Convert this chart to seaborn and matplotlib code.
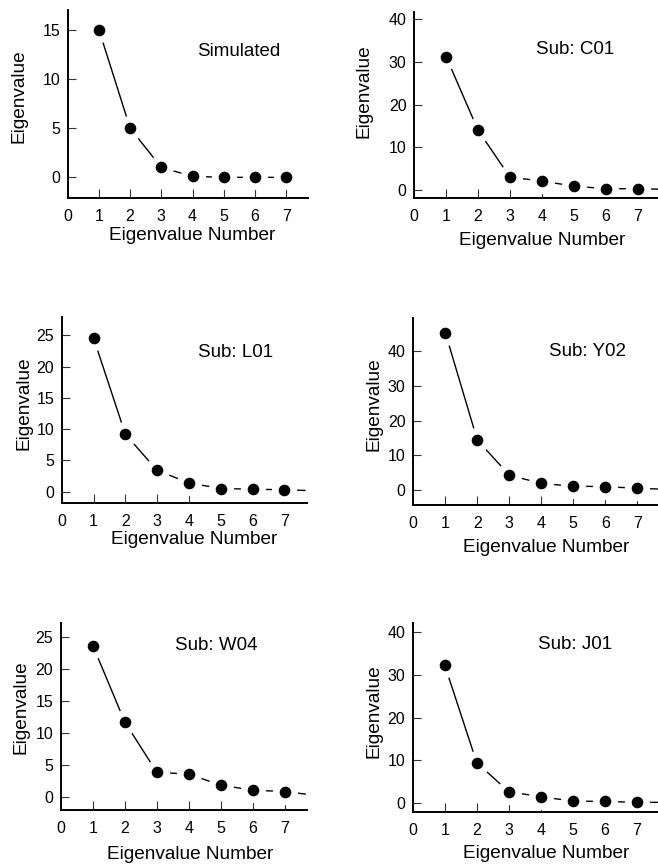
import numpy as np
import pandas as pd
import matplotlib
matplotlib.use("Agg")
import matplotlib.pyplot as plt
import seaborn as sns

# ---------------- data ----------------
eig_num = [1, 2, 3, 4, 5, 6, 7]
panel_titles = ["Simulated", "Sub: C01", "Sub: L01", "Sub: Y02", "Sub: W04", "Sub: J01"]
sim_vals = [15.0, 5.0, 1.0, 0.1, 0.0, 0.0, 0.0]
c01_vals = [31.2, 14.0, 3.0, 2.1, 0.9, 0.3, 0.3]
l01_vals = [24.6, 9.2, 3.4, 1.4, 0.5, 0.4, 0.3]
y02_vals = [45.3, 14.4, 4.3, 1.9, 1.1, 1.0, 0.5]
w04_vals = [23.6, 11.7, 3.9, 3.6, 1.9, 1.1, 0.9]
j01_vals = [32.3, 9.4, 2.6, 1.4, 0.4, 0.3, 0.1]
# end of the drawn curve beyond point 7
curve_end_x = 7.65
curve_end_vals = [np.nan, 0.2, 0.2, 0.3, 0.5, 0.1]
x_ticks = [0, 1, 2, 3, 4, 5, 6, 7]
y_ticks = [[0, 5, 10, 15], [0, 10, 20, 30, 40], [0, 5, 10, 15, 20, 25],
           [0, 10, 20, 30, 40], [0, 5, 10, 15, 20, 25], [0, 10, 20, 30, 40]]
y_limits = [(-2.1, 17.0), (-1.95, 41.8), (-1.86, 28.0),
            (-4.3, 49.4), (-1.98, 27.1), (-2.1, 42.1)]
series = [sim_vals, c01_vals, l01_vals, y02_vals, w04_vals, j01_vals]

# ---------------- layout (pixels) ----------------
W, H = 658, 867
boxes = [  # left, right, top, bottom
    (67.7, 308.0, 10.0, 198.0),
    (414.3, 658.0, 11.7, 198.3),
    (61.7, 306.7, 316.7, 503.3),
    (413.3, 658.0, 318.3, 505.0),
    (61.0, 307.0, 623.3, 810.0),
    (412.7, 658.0, 623.3, 811.7),
]
x_max = [7.7, 7.64, 7.7, 7.65, 7.7, 7.66]
title_pos = [(0.71, 0.78), (0.66, 0.80), (0.71, 0.81), (0.71, 0.82), (0.63, 0.88), (0.66, 0.885)]
ylabel_pos = [(-0.166, 0.54), (-0.171, 0.576), (-0.118, 0.536),
              (-0.125, 0.54), (-0.129, 0.553), (-0.122, 0.536)]
xlabel_pos = [(0.519, -0.154), (0.526, -0.181), (0.541, -0.151),
              (0.545, -0.18), (0.524, -0.195), (0.545, -0.179)]

sns.set_style("ticks")
plt.rcParams["font.family"] = ["Liberation Sans", "DejaVu Sans"]
plt.rcParams["text.color"] = "black"
plt.rcParams["axes.labelcolor"] = "black"
plt.rcParams["xtick.color"] = "black"
plt.rcParams["ytick.color"] = "black"

fig = plt.figure(figsize=(W / 100, H / 100), dpi=100)

for i in range(6):
    l, r, t, b = boxes[i]
    ax = fig.add_axes([l / W, 1 - b / H, (r - l) / W, (b - t) / H])
    vals = series[i]
    lx = eig_num + [curve_end_x]
    ly = vals + [curve_end_vals[i]]
    df_line = pd.DataFrame({"x": lx, "y": ly}).dropna()
    df_pts = pd.DataFrame({"x": eig_num, "y": vals})

    sns.lineplot(data=df_line, x="x", y="y", ax=ax, color="black", lw=1.0,
                 estimator=None, sort=False, zorder=1)
    sns.scatterplot(data=df_pts, x="x", y="y", ax=ax, color="white", s=330,
                    linewidth=0, zorder=1.5)
    sns.scatterplot(data=df_pts, x="x", y="y", ax=ax, color="black", s=70,
                    linewidth=0, zorder=3)

    ax.set_xlim(0, x_max[i])
    ax.set_ylim(*y_limits[i])
    ax.set_xticks(x_ticks)
    ax.set_yticks(y_ticks[i])
    ax.tick_params(axis="x", direction="in", length=6.5, width=0.8, pad=8,
                   labelsize=11.5, color="#333333", labelcolor="black")
    ax.tick_params(axis="y", direction="in", length=6, width=0.8, pad=5.5,
                   labelsize=11.5, color="#333333", labelcolor="black")
    # hide the tick mark at x=0 (spine)
    ax.xaxis.get_major_ticks()[0].tick1line.set_visible(False)

    for sp in ["top", "right"]:
        ax.spines[sp].set_visible(False)
    for sp in ["left", "bottom"]:
        ax.spines[sp].set_linewidth(1.4)
        ax.spines[sp].set_color("black")

    ax.set_xlabel("Eigenvalue Number", fontsize=13.7)
    ax.set_ylabel("Eigenvalue", fontsize=13.7)
    ax.xaxis.set_label_coords(*xlabel_pos[i])
    ax.yaxis.set_label_coords(*ylabel_pos[i])

    ax.text(title_pos[i][0], title_pos[i][1], panel_titles[i], transform=ax.transAxes,
            ha="center", va="center", fontsize=13.5)
    ax.set_facecolor("none")

fig.savefig("out.png", dpi=100)
